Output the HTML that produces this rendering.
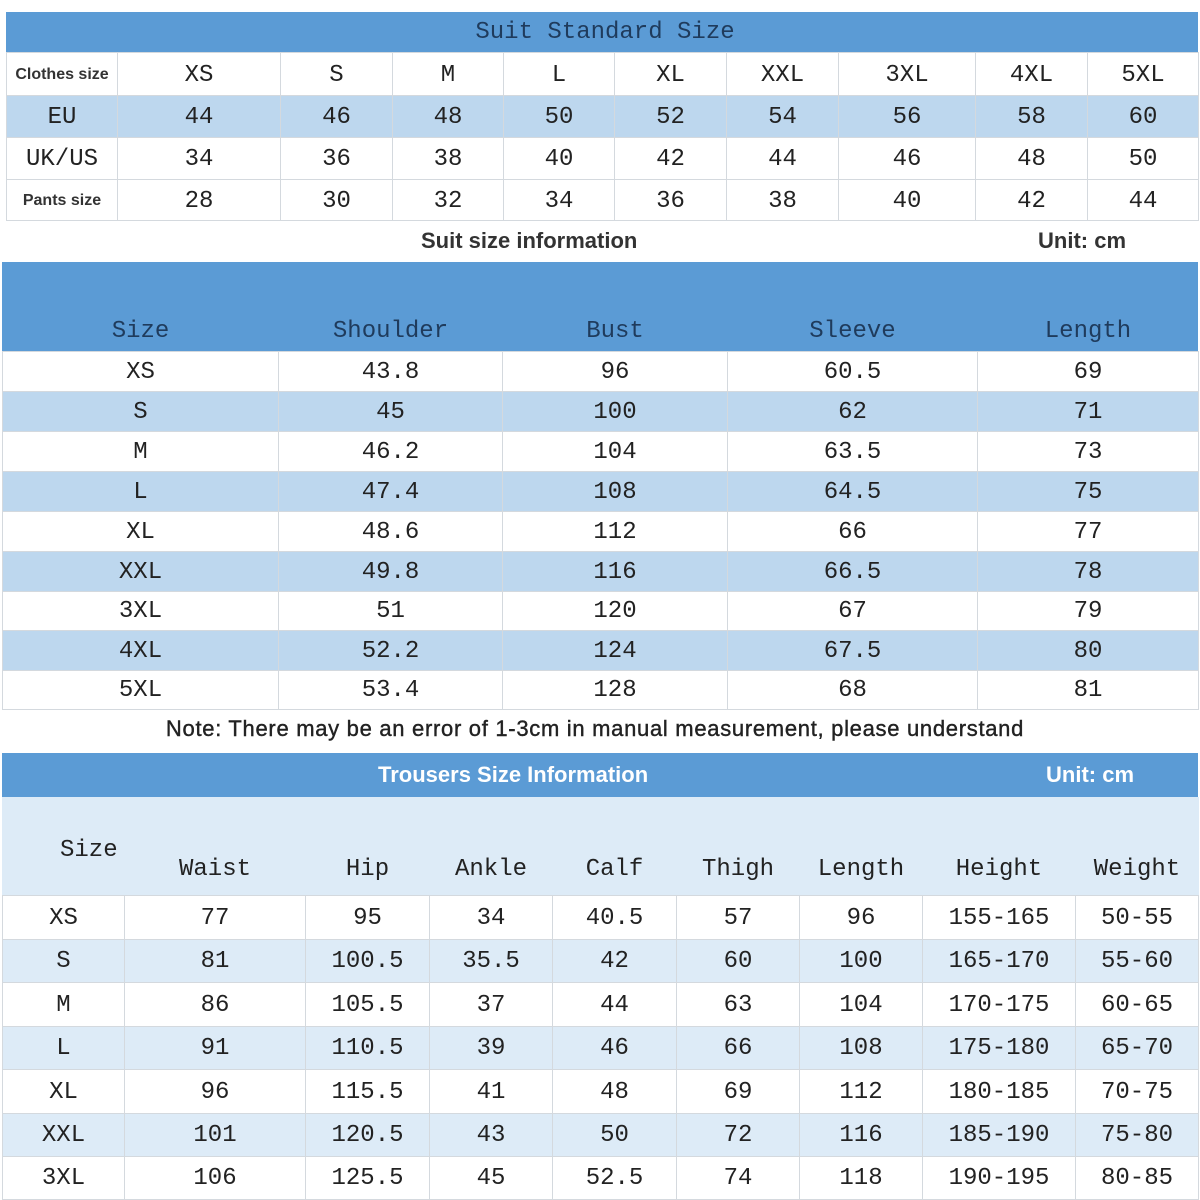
<!DOCTYPE html>
<html><head><meta charset="utf-8"><style>
body{margin:0;width:1200px;height:1200px;background:#fff;position:relative;overflow:hidden;font-family:"Liberation Mono",monospace;color:#222}
table{position:absolute;border-collapse:collapse;table-layout:fixed}
td{border:1px solid #d4d9de;text-align:center;padding:2px 0 0 0;font-size:24px;white-space:nowrap;overflow:visible}
.l{background:#bdd7ee}
.t{background:#ddebf7}
.s{font-family:"Liberation Sans",sans-serif;font-weight:bold;font-size:16px;color:#333}
.bar{position:absolute;background:#5b9bd5}
.txt{position:absolute;white-space:nowrap}
</style></head><body>
<div class="bar" style="left:6px;top:12px;width:1192px;height:40px"></div>
<div class="txt" style="left:0;width:1210px;top:19px;text-align:center;font-size:24px;color:#1f3b5c">Suit Standard Size</div>
<table style="left:6px;top:52px;width:1192px">
<colgroup><col style="width:111px"><col style="width:163px"><col style="width:112px"><col style="width:111px"><col style="width:111px"><col style="width:112px"><col style="width:112px"><col style="width:137px"><col style="width:112px"><col style="width:111px"></colgroup>
<tr style="height:43px"><td class="s">Clothes size</td><td>XS</td><td>S</td><td>M</td><td>L</td><td>XL</td><td>XXL</td><td>3XL</td><td>4XL</td><td>5XL</td></tr>
<tr style="height:42px" class="l"><td>EU</td><td>44</td><td>46</td><td>48</td><td>50</td><td>52</td><td>54</td><td>56</td><td>58</td><td>60</td></tr>
<tr style="height:42px"><td>UK/US</td><td>34</td><td>36</td><td>38</td><td>40</td><td>42</td><td>44</td><td>46</td><td>48</td><td>50</td></tr>
<tr style="height:41px"><td class="s">Pants size</td><td>28</td><td>30</td><td>32</td><td>34</td><td>36</td><td>38</td><td>40</td><td>42</td><td>44</td></tr>
</table>
<div class="txt" style="left:421px;top:228px;font-family:'Liberation Sans',sans-serif;font-weight:bold;font-size:22px;color:#333">Suit size information</div>
<div class="txt" style="left:1038px;top:228px;font-family:'Liberation Sans',sans-serif;font-weight:bold;font-size:22px;color:#333">Unit: cm</div>
<div class="bar" style="left:2px;top:262px;width:1196px;height:89px"></div>
<table style="left:2px;top:262px;width:1196px">
<colgroup><col style="width:276px"><col style="width:224px"><col style="width:225px"><col style="width:250px"><col style="width:221px"></colgroup>
<tr style="height:89px"><td style="border:none;vertical-align:bottom;padding-bottom:6px;color:#1f3b5c">Size</td><td style="border:none;vertical-align:bottom;padding-bottom:6px;color:#1f3b5c">Shoulder</td><td style="border:none;vertical-align:bottom;padding-bottom:6px;color:#1f3b5c">Bust</td><td style="border:none;vertical-align:bottom;padding-bottom:6px;color:#1f3b5c">Sleeve</td><td style="border:none;vertical-align:bottom;padding-bottom:6px;color:#1f3b5c">Length</td></tr>
<tr style="height:40px"><td>XS</td><td>43.8</td><td>96</td><td>60.5</td><td>69</td></tr>
<tr style="height:40px" class="l"><td>S</td><td>45</td><td>100</td><td>62</td><td>71</td></tr>
<tr style="height:40px"><td>M</td><td>46.2</td><td>104</td><td>63.5</td><td>73</td></tr>
<tr style="height:40px" class="l"><td>L</td><td>47.4</td><td>108</td><td>64.5</td><td>75</td></tr>
<tr style="height:40px"><td>XL</td><td>48.6</td><td>112</td><td>66</td><td>77</td></tr>
<tr style="height:40px" class="l"><td>XXL</td><td>49.8</td><td>116</td><td>66.5</td><td>78</td></tr>
<tr style="height:39px"><td>3XL</td><td>51</td><td>120</td><td>67</td><td>79</td></tr>
<tr style="height:40px" class="l"><td>4XL</td><td>52.2</td><td>124</td><td>67.5</td><td>80</td></tr>
<tr style="height:39px"><td>5XL</td><td>53.4</td><td>128</td><td>68</td><td>81</td></tr>
</table>
<div class="txt" style="left:0;width:1190px;text-align:center;top:716px;font-family:'Liberation Sans',sans-serif;font-size:22px;letter-spacing:0.7px;color:#222;-webkit-text-stroke:0.4px #222">Note: There may be an error of 1-3cm in manual measurement, please understand</div>
<div class="bar" style="left:2px;top:753px;width:1196px;height:44px"></div>
<div class="txt" style="left:378px;top:762px;font-family:'Liberation Sans',sans-serif;font-weight:bold;font-size:22px;color:#fff">Trousers Size Information</div>
<div class="txt" style="left:1046px;top:762px;font-family:'Liberation Sans',sans-serif;font-weight:bold;font-size:22px;color:#fff">Unit: cm</div>
<div style="position:absolute;left:2px;top:797px;width:1196px;height:98px;background:#ddebf7"></div>
<table style="left:2px;top:797px;width:1196px">
<colgroup><col style="width:122px"><col style="width:181px"><col style="width:124px"><col style="width:123px"><col style="width:124px"><col style="width:123px"><col style="width:123px"><col style="width:153px"><col style="width:123px"></colgroup>
<tr style="height:98px" class="t"><td style="border:none"></td><td style="border:none;vertical-align:bottom;padding-bottom:12px">Waist</td><td style="border:none;vertical-align:bottom;padding-bottom:12px">Hip</td><td style="border:none;vertical-align:bottom;padding-bottom:12px">Ankle</td><td style="border:none;vertical-align:bottom;padding-bottom:12px">Calf</td><td style="border:none;vertical-align:bottom;padding-bottom:12px">Thigh</td><td style="border:none;vertical-align:bottom;padding-bottom:12px">Length</td><td style="border:none;vertical-align:bottom;padding-bottom:12px">Height</td><td style="border:none;vertical-align:bottom;padding-bottom:12px">Weight</td></tr>
<tr style="height:44px"><td>XS</td><td>77</td><td>95</td><td>34</td><td>40.5</td><td>57</td><td>96</td><td>155-165</td><td>50-55</td></tr>
<tr style="height:43px" class="t"><td>S</td><td>81</td><td>100.5</td><td>35.5</td><td>42</td><td>60</td><td>100</td><td>165-170</td><td>55-60</td></tr>
<tr style="height:44px"><td>M</td><td>86</td><td>105.5</td><td>37</td><td>44</td><td>63</td><td>104</td><td>170-175</td><td>60-65</td></tr>
<tr style="height:43px" class="t"><td>L</td><td>91</td><td>110.5</td><td>39</td><td>46</td><td>66</td><td>108</td><td>175-180</td><td>65-70</td></tr>
<tr style="height:44px"><td>XL</td><td>96</td><td>115.5</td><td>41</td><td>48</td><td>69</td><td>112</td><td>180-185</td><td>70-75</td></tr>
<tr style="height:43px" class="t"><td>XXL</td><td>101</td><td>120.5</td><td>43</td><td>50</td><td>72</td><td>116</td><td>185-190</td><td>75-80</td></tr>
<tr style="height:43px"><td>3XL</td><td>106</td><td>125.5</td><td>45</td><td>52.5</td><td>74</td><td>118</td><td>190-195</td><td>80-85</td></tr>
</table>
<div class="txt" style="left:60px;top:837px;font-size:24px">Size</div>
</body></html>
